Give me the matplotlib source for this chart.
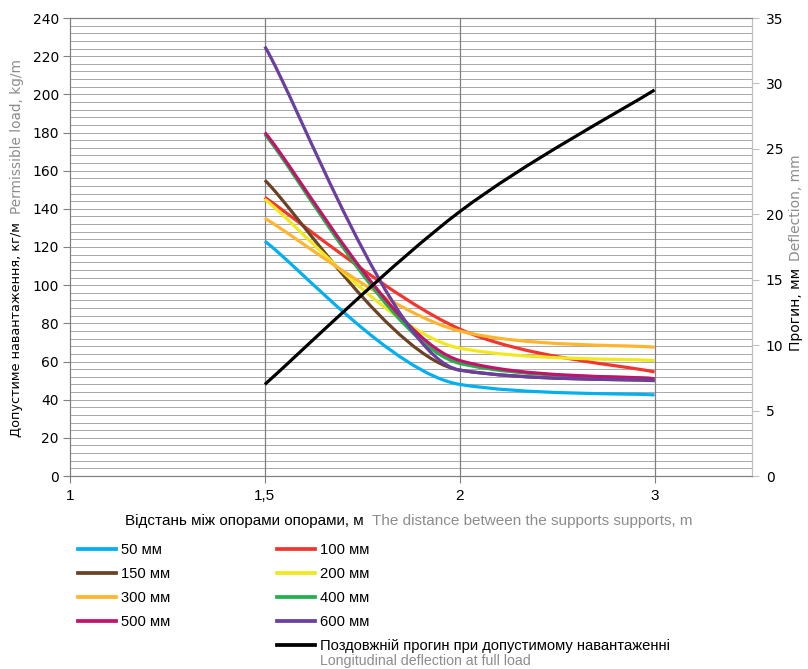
import numpy as np
import matplotlib
matplotlib.use('Agg')
import matplotlib.pyplot as plt
from matplotlib.path import Path
from matplotlib.patches import PathPatch
from matplotlib.lines import Line2D

# data
spans = ['1', '1,5', '2', '3']
pos = [1, 2, 3]  # category positions of 1,5 / 2 / 3

load_50 = [123, 48, 42.5]
load_100 = [146, 77, 54.5]
load_150 = [155, 55.5, 50.0]
load_200 = [145, 67, 60.5]
load_300 = [135, 76, 67.5]
load_400 = [179, 59, 51]
load_500 = [180, 60.5, 51]
load_600 = [225, 55.5, 50]
deflection = [7.0, 20.2, 29.5]

series = [
    ('50 мм', load_50, '#00b0f0'),
    ('100 мм', load_100, '#f2362e'),
    ('150 мм', load_150, '#6b4224'),
    ('200 мм', load_200, '#f2e81e'),
    ('300 мм', load_300, '#ffb52e'),
    ('400 мм', load_400, '#22b04c'),
    ('500 мм', load_500, '#c2136c'),
    ('600 мм', load_600, '#6a3fa0'),
]

narrow = 'Liberation Sans'


def smooth_path(xs, ys):
    # smoothed line through the points, bezier segments without overshoot
    x = np.asarray(xs, float)
    y = np.asarray(ys, float)
    n = len(x)
    d = np.diff(y) / np.diff(x)
    m = np.zeros(n)
    for i in range(1, n - 1):
        if d[i - 1] * d[i] <= 0:
            m[i] = 0
        else:
            cr = (y[i + 1] - y[i - 1]) / (x[i + 1] - x[i - 1])
            lim = 3 * min(abs(d[i - 1]), abs(d[i]))
            m[i] = np.sign(cr) * min(abs(cr), lim)
    verts = [(x[0], y[0])]
    codes = [Path.MOVETO]
    for i in range(n - 1):
        h = x[i + 1] - x[i]
        if i == 0:
            c1 = (x[0] + h / 6, y[0] + (y[1] - y[0]) / 6)
        else:
            c1 = (x[i] + h / 3, y[i] + m[i] * h / 3)
        if i == n - 2:
            c2 = (x[i + 1] - h / 6, y[i + 1] - (y[i + 1] - y[i]) / 6)
        else:
            c2 = (x[i + 1] - h / 3, y[i + 1] - m[i + 1] * h / 3)
        verts += [c1, c2, (x[i + 1], y[i + 1])]
        codes += [Path.CURVE4] * 3
    return Path(verts, codes)


W, H = 808, 669
fig = plt.figure(figsize=(W / 100, H / 100), dpi=100)
ax = fig.add_axes([70 / W, 1 - 476 / H, (752 - 70) / W, (476 - 18) / H])
ax2 = ax.twinx()

lw = 2.3
handles = {}
for name, vals, col in series:
    ax.add_patch(PathPatch(smooth_path(pos, vals), fill=False, edgecolor=col,
                           lw=lw, capstyle='butt', joinstyle='round', zorder=3))
    handles[name] = Line2D([], [], color=col, lw=lw + 0.4)

ax2.add_patch(PathPatch(smooth_path(pos, deflection), fill=False, edgecolor='black',
                        lw=lw, capstyle='butt', joinstyle='round', zorder=3))
h_defl = Line2D([], [], color='black', lw=lw + 0.4)

ax.set_xlim(0, 3.5)
ax.set_ylim(0, 240)
ax2.set_ylim(0, 35)

ax.set_xticks(range(len(spans)))
ax.set_xticklabels(spans, fontsize=11, family=narrow)
ax.set_yticks(np.arange(0, 241, 20))
ax.set_yticks(np.arange(0, 241, 4), minor=True)
ax2.set_yticks(np.arange(0, 36, 5))

ax.tick_params(axis='x', length=5, color='#808080', pad=4)
ax.tick_params(axis='y', which='major', length=5, color='#808080', labelsize=10, pad=3)
ax.tick_params(axis='y', which='minor', length=0)
ax2.tick_params(axis='y', length=5, color='#c0c0c0', labelsize=10, pad=5)

ax.grid(axis='y', which='both', color='#a8a8a8', lw=0.7)
for xg in pos:
    ax.axvline(xg, color='#808080', lw=0.9, zorder=1)
ax.set_axisbelow(True)

for sp in ['left', 'bottom', 'top']:
    ax.spines[sp].set_color('#808080')
    ax2.spines[sp].set_color('#808080')
ax.spines['right'].set_color('#c0c0c0')
ax2.spines['right'].set_color('#c0c0c0')

# axis titles, two colours each
fig.text(364 / W, 1 - 521 / H, 'Відстань між опорами опорами, м', ha='right', va='center',
         fontsize=11, family=narrow, color='black')
fig.text(372 / W, 1 - 521 / H, 'The distance between the supports supports, m', ha='left',
         va='center', fontsize=11, family=narrow, color='#8c8c8c')

fig.text(17 / W, 1 - 222 / H, 'Допустиме навантаження, кг/м', rotation=90, ha='center',
         va='top', fontsize=9.3, color='black')
fig.text(17 / W, 1 - 214 / H, 'Permissible load, kg/m', rotation=90, ha='center',
         va='bottom', fontsize=9.8, color='#8c8c8c')

fig.text(796 / W, 1 - 268 / H, 'Прогин, мм', rotation=90, ha='center', va='top',
         fontsize=10, color='black')
fig.text(796 / W, 1 - 261 / H, 'Deflection, mm', rotation=90, ha='center', va='bottom',
         fontsize=10, color='#8c8c8c')

# legend: filled column-wise, blank spot under 500 мм
blank = Line2D([], [], color='none')
order_l = ['50 мм', '150 мм', '300 мм', '500 мм']
order_r = ['100 мм', '200 мм', '400 мм', '600 мм']
leg_h = [handles[n] for n in order_l] + [blank] + [handles[n] for n in order_r] + [h_defl]
leg_l = order_l + [''] + order_r + ['Поздовжній прогин при допустимому навантаженні']
leg = fig.legend(leg_h, leg_l, ncol=2, loc='upper left', bbox_to_anchor=(78 / W, 1 - 543 / H),
                 frameon=False, prop={'family': narrow, 'size': 10.6},
                 handlelength=2.6, handletextpad=0.34, columnspacing=7.2, labelspacing=0.68,
                 borderpad=0, borderaxespad=0)

fig.canvas.draw()
bb = leg.get_texts()[-1].get_window_extent()
fig.text(bb.x0 / W, (bb.y0 - 0.5) / H, 'Longitudinal deflection at full load', ha='left', va='top',
         fontsize=10.2, family=narrow, color='#8c8c8c')

fig.savefig('out.png', dpi=100)
